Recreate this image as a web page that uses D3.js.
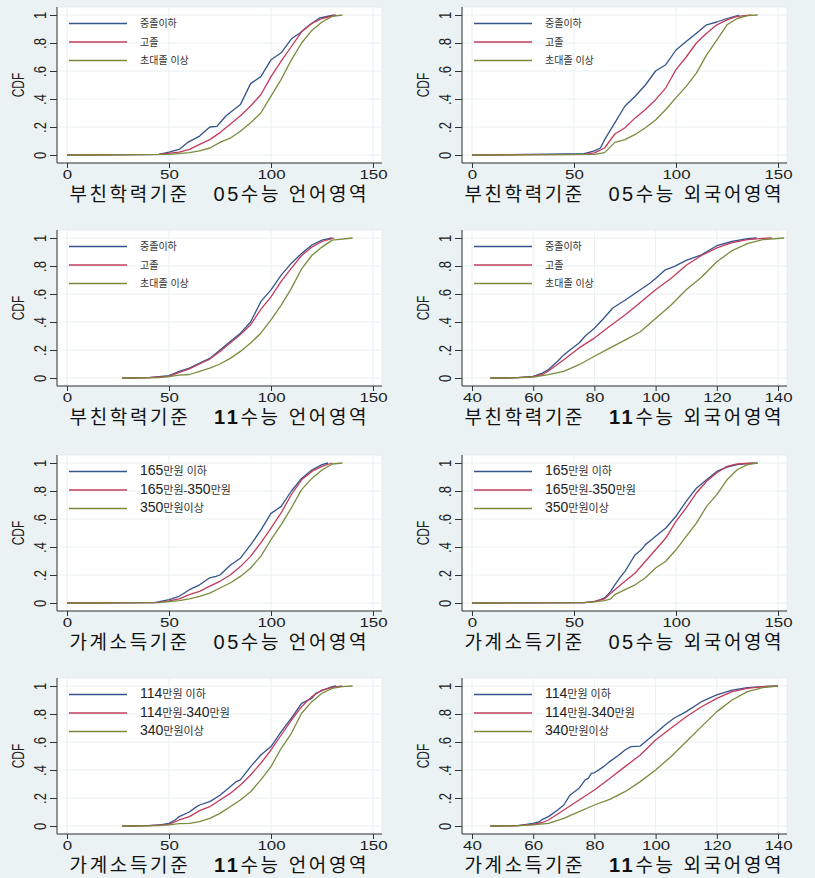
<!DOCTYPE html>
<html><head><meta charset="utf-8">
<script src="https://cdn.jsdelivr.net/npm/d3@7"></script>
<style>
html,body{margin:0;padding:0;background:#ebf2f4;}
svg{display:block;}
</style></head>
<body>
<svg id="chart" width="815" height="878"></svg>
<script>
// ---------- DATA (x score, cumulative share) ----------
const eduLabels   = ['중졸이하','고졸','초대졸 이상'];
const inc05Labels = ['165만원 이하','165만원-350만원','350만원이상'];
const inc11Labels = ['114만원 이하','114만원-340만원','340만원이상'];

const titles = [
  '부친학력기준   05수능 언어영역', '부친학력기준   05수능 외국어영역',
  '부친학력기준   11수능 언어영역', '부친학력기준   11수능 외국어영역',
  '가계소득기준   05수능 언어영역', '가계소득기준   05수능 외국어영역',
  '가계소득기준   11수능 언어영역', '가계소득기준   11수능 외국어영역'
];
const ticksWide   = [0,50,100,150];
const ticksNarrow = [40,60,80,100,120,140];
const yTicks      = [0,0.2,0.4,0.6,0.8,1];
const yTickLabels = ['0','.2','.4','.6','.8','1'];

const a05k_lo  = [[0,0],[45,0.005],[50,0.02],[55,0.04],[59,0.088],[65,0.135],[70,0.2],[73.5,0.205],[78,0.28],[85,0.36],[90,0.51],[95,0.56],[100,0.68],[105,0.73],[110,0.83],[114,0.87],[119,0.93],[124,0.98],[131,1]];
const a05k_mid = [[0,0],[45,0.005],[55,0.02],[60,0.04],[65,0.076],[70,0.11],[75,0.16],[80,0.22],[85,0.28],[90,0.35],[95,0.43],[100,0.56],[105,0.67],[110,0.775],[115,0.88],[120,0.94],[125,0.975],[132,1]];
const a05k_hi  = [[0,0],[40,0.002],[50,0.005],[60,0.017],[65,0.03],[70,0.05],[75,0.09],[80,0.12],[85,0.17],[90,0.23],[95,0.30],[100,0.42],[105,0.54],[110,0.68],[115,0.80],[120,0.89],[125,0.95],[130,0.99],[135,1]];

const a05e_lo  = [[0,0],[55,0.01],[60,0.03],[63,0.05],[65,0.11],[70,0.23],[75,0.35],[80,0.42],[85,0.50],[90,0.60],[95,0.645],[100,0.75],[105,0.81],[110,0.87],[115,0.93],[120,0.95],[125,0.975],[131,1]];
const a05e_mid = [[0,0],[55,0.005],[60,0.015],[65,0.05],[70,0.15],[75,0.195],[80,0.265],[85,0.325],[90,0.395],[95,0.48],[100,0.61],[105,0.70],[110,0.80],[115,0.87],[120,0.93],[125,0.965],[130,0.99],[137,1]];
const a05e_hi  = [[0,0],[60,0.005],[65,0.017],[70,0.09],[75,0.11],[80,0.147],[85,0.195],[90,0.25],[95,0.325],[100,0.41],[105,0.49],[110,0.585],[115,0.715],[120,0.82],[125,0.93],[130,0.975],[135,0.995],[140,1]];

const a11k_lo  = [[27,0],[40,0.002],[50,0.017],[55,0.047],[60,0.07],[65,0.107],[70,0.14],[75,0.2],[80,0.26],[85,0.32],[90,0.40],[95,0.545],[100,0.63],[105,0.735],[110,0.82],[115,0.89],[120,0.95],[125,0.985],[130,1]];
const a11k_mid = [[27,0],[40,0.002],[50,0.012],[55,0.04],[60,0.065],[65,0.10],[70,0.135],[75,0.19],[80,0.25],[85,0.31],[90,0.38],[95,0.49],[100,0.58],[105,0.69],[110,0.785],[115,0.875],[120,0.935],[125,0.975],[131,1]];
const a11k_hi  = [[27,0],[45,0.003],[50,0.01],[55,0.02],[60,0.025],[65,0.047],[70,0.07],[75,0.10],[80,0.14],[85,0.19],[90,0.25],[95,0.32],[100,0.415],[105,0.52],[110,0.64],[115,0.78],[120,0.875],[125,0.935],[130,0.985],[140,1]];

const a11e_lo  = [[46,0],[55,0.002],[60,0.012],[63,0.035],[65,0.06],[68,0.12],[70,0.165],[72,0.2],[75,0.25],[77,0.30],[80,0.355],[83,0.425],[86,0.50],[90,0.555],[95,0.63],[98,0.675],[100,0.71],[103,0.77],[106,0.795],[110,0.84],[115,0.88],[120,0.945],[125,0.975],[130,0.995],[133,1]];
const a11e_mid = [[46,0],[55,0.002],[60,0.01],[63,0.025],[65,0.05],[70,0.13],[75,0.215],[80,0.285],[85,0.37],[90,0.45],[95,0.54],[100,0.63],[105,0.71],[110,0.805],[115,0.875],[120,0.93],[125,0.967],[130,0.988],[135,0.998],[138,1]];
const a11e_hi  = [[46,0],[55,0.002],[60,0.007],[65,0.024],[70,0.047],[75,0.095],[80,0.155],[85,0.213],[90,0.27],[95,0.33],[100,0.425],[105,0.52],[110,0.63],[115,0.72],[120,0.83],[125,0.91],[130,0.96],[135,0.988],[142,1]];

const i05k_lo  = [[0,0],[43,0.003],[50,0.024],[55,0.048],[60,0.095],[65,0.13],[70,0.18],[73,0.19],[75,0.2],[80,0.27],[85,0.32],[90,0.415],[95,0.52],[100,0.64],[105,0.69],[110,0.80],[115,0.89],[120,0.95],[125,0.988],[128,1]];
const i05k_mid = [[0,0],[45,0.005],[50,0.015],[55,0.03],[60,0.06],[65,0.083],[70,0.12],[75,0.155],[80,0.2],[85,0.26],[90,0.333],[95,0.43],[100,0.535],[105,0.645],[110,0.775],[115,0.88],[120,0.94],[125,0.976],[130,1]];
const i05k_hi  = [[0,0],[45,0.003],[55,0.017],[60,0.03],[65,0.048],[70,0.07],[75,0.107],[80,0.143],[85,0.19],[90,0.25],[95,0.333],[100,0.452],[105,0.56],[110,0.68],[115,0.81],[120,0.89],[125,0.95],[130,0.993],[135,1]];

const i05e_lo  = [[0,0],[55,0.003],[60,0.01],[63,0.024],[65,0.036],[68,0.083],[70,0.13],[73,0.19],[75,0.226],[78,0.298],[80,0.345],[83,0.38],[85,0.417],[88,0.452],[90,0.476],[95,0.536],[100,0.62],[105,0.726],[110,0.82],[115,0.88],[120,0.94],[125,0.97],[130,0.988],[135,0.995],[140,1]];
const i05e_mid = [[0,0],[55,0.003],[60,0.012],[65,0.03],[70,0.095],[75,0.155],[80,0.214],[85,0.298],[90,0.38],[95,0.464],[100,0.583],[105,0.68],[110,0.786],[115,0.87],[120,0.93],[125,0.976],[130,0.993],[138,1]];
const i05e_hi  = [[0,0],[55,0.002],[60,0.008],[65,0.017],[68,0.03],[70,0.06],[75,0.095],[80,0.13],[85,0.18],[90,0.25],[95,0.298],[100,0.38],[105,0.476],[110,0.57],[115,0.69],[120,0.774],[125,0.88],[130,0.952],[135,0.988],[140,1]];

const i11k_lo  = [[27,0],[40,0.002],[45,0.007],[50,0.019],[53,0.043],[55,0.067],[60,0.10],[63,0.133],[65,0.15],[70,0.174],[75,0.22],[80,0.28],[83,0.317],[85,0.33],[90,0.424],[95,0.507],[100,0.567],[105,0.674],[108,0.733],[110,0.77],[115,0.876],[120,0.912],[122,0.948],[125,0.967],[130,0.995],[132,1]];
const i11k_mid = [[27,0],[40,0.002],[45,0.006],[50,0.012],[55,0.043],[60,0.067],[65,0.11],[70,0.138],[75,0.186],[80,0.233],[85,0.293],[90,0.364],[95,0.448],[100,0.543],[105,0.65],[110,0.757],[115,0.852],[120,0.924],[125,0.971],[130,0.99],[135,1]];
const i11k_hi  = [[27,0],[45,0.003],[50,0.008],[55,0.017],[60,0.019],[65,0.031],[70,0.055],[75,0.09],[80,0.138],[85,0.186],[90,0.245],[95,0.329],[100,0.424],[105,0.555],[110,0.662],[115,0.805],[120,0.888],[125,0.948],[130,0.983],[135,0.995],[140,1]];

const i11e_lo  = [[46,0],[55,0.003],[60,0.019],[62,0.031],[63,0.048],[65,0.067],[68,0.114],[70,0.15],[72,0.22],[75,0.27],[77,0.33],[78,0.34],[79,0.376],[80,0.38],[83,0.424],[85,0.46],[88,0.507],[90,0.543],[92,0.567],[95,0.571],[98,0.626],[100,0.662],[103,0.72],[106,0.77],[110,0.817],[115,0.888],[120,0.936],[125,0.971],[130,0.988],[135,0.995],[140,1]];
const i11e_mid = [[46,0],[55,0.003],[60,0.012],[63,0.025],[65,0.043],[70,0.114],[75,0.186],[80,0.257],[85,0.34],[90,0.424],[95,0.507],[100,0.614],[105,0.698],[110,0.78],[115,0.852],[120,0.912],[125,0.96],[130,0.983],[135,0.995],[140,1]];
const i11e_hi  = [[46,0],[55,0.002],[60,0.008],[65,0.019],[70,0.055],[75,0.102],[80,0.15],[85,0.19],[90,0.245],[95,0.317],[100,0.40],[105,0.495],[110,0.602],[115,0.71],[120,0.817],[125,0.9],[130,0.96],[135,0.988],[140,1]];

// ---------- panel table built from the arrays ----------
const panels = [
  {series:[a05k_lo,a05k_mid,a05k_hi], labels:eduLabels,   ticks:ticksWide},
  {series:[a05e_lo,a05e_mid,a05e_hi], labels:eduLabels,   ticks:ticksWide},
  {series:[a11k_lo,a11k_mid,a11k_hi], labels:eduLabels,   ticks:ticksWide},
  {series:[a11e_lo,a11e_mid,a11e_hi], labels:eduLabels,   ticks:ticksNarrow},
  {series:[i05k_lo,i05k_mid,i05k_hi], labels:inc05Labels, ticks:ticksWide},
  {series:[i05e_lo,i05e_mid,i05e_hi], labels:inc05Labels, ticks:ticksWide},
  {series:[i11k_lo,i11k_mid,i11k_hi], labels:inc11Labels, ticks:ticksWide},
  {series:[i11e_lo,i11e_mid,i11e_hi], labels:inc11Labels, ticks:ticksNarrow}
].map((p,i)=>Object.assign(p,{title:titles[i], income: i >= 4}));

const colors = ['#34548c','#c23c5c','#7b8b3d'];
const svg = d3.select('#chart');
const latin = '"Liberation Sans", Arial, sans-serif';
const mixed = '"Liberation Sans", "Noto Sans CJK KR", sans-serif';

const colX0 = [67, 472];     // pixel of first x tick
const rowY1 = [15, 238, 463, 686]; // pixel of y = 1
const spanX = 306, spanY = 140;

panels.forEach((p, i) => {
  const c = i % 2, r = Math.floor(i / 2);
  const x0 = colX0[c], y1 = rowY1[r];
  const dom = d3.extent(p.ticks);
  const x = d3.scaleLinear().domain(dom).range([x0, x0 + spanX]);
  const y = d3.scaleLinear().domain([0, 1]).range([y1 + spanY, y1]);
  const left = x0 - 10, right = x0 + spanX + 9, top = y1 - 8, bottom = y1 + spanY + 8;

  const g = svg.append('g');
  g.append('rect').attr('x', left).attr('y', top).attr('width', right - left).attr('height', bottom - top)
    .attr('fill', '#ffffff').attr('stroke', '#e4ecee').attr('stroke-width', 1);

  // gridlines
  g.append('g').selectAll('line').data(yTicks).join('line')
    .attr('x1', left).attr('x2', right).attr('y1', d => y(d)).attr('y2', d => y(d))
    .attr('stroke', '#eaf0f2').attr('stroke-width', 1);
  g.append('g').selectAll('line').data(p.ticks).join('line')
    .attr('x1', d => x(d)).attr('x2', d => x(d)).attr('y1', top).attr('y2', bottom)
    .attr('stroke', '#eaf0f2').attr('stroke-width', 1);

  // curves
  const line = d3.line().x(d => x(d[0])).y(d => y(d[1]));
  p.series.forEach((s, k) => {
    g.append('path').datum(s).attr('d', line).attr('fill', 'none')
      .attr('stroke', colors[k]).attr('stroke-width', 1.3).attr('stroke-linejoin', 'round');
  });

  // axes
  const xa = g.append('g').attr('transform', `translate(0,${bottom})`)
    .call(d3.axisBottom(x).tickValues(p.ticks).tickSize(5).tickSizeOuter(0).tickFormat(d3.format('d')));
  xa.select('.domain').remove();
  xa.selectAll('.tick line').attr('stroke', '#333');
  xa.selectAll('.tick text').attr('dy', null).attr('y', 16)
    .attr('transform', 'scale(1.3,1)')
    .attr('font-family', latin).attr('font-size', 13).attr('fill', '#222');

  const ya = g.append('g').attr('transform', `translate(${left},0)`)
    .call(d3.axisLeft(y).tickValues(yTicks).tickSize(7).tickSizeOuter(0).tickFormat((d, j) => yTickLabels[j]));
  ya.select('.domain').remove();
  ya.selectAll('.tick line').attr('stroke', '#333');
  ya.selectAll('.tick text').attr('x', null).attr('dy', '0.35em')
    .attr('text-anchor', 'middle')
    .attr('transform', 'translate(-17,0) scale(1.3,1) rotate(-90)')
    .attr('font-family', latin).attr('font-size', 13).attr('fill', '#222');

  g.append('line').attr('x1', left).attr('x2', left).attr('y1', top).attr('y2', bottom).attr('stroke', '#333');
  g.append('line').attr('x1', left).attr('x2', right).attr('y1', bottom).attr('y2', bottom).attr('stroke', '#333');

  // y title
  g.append('text').attr('transform', `translate(${left - 38},${y(0.5)}) scale(1.3,1) rotate(-90)`)
    .attr('text-anchor', 'middle').attr('dy', '0.35em')
    .attr('font-family', latin).attr('font-size', 12).attr('fill', '#222')
    .text('CDF');

  // legend
  const lg = g.append('g');
  p.labels.forEach((lab, k) => {
    const ly = y1 + 8.5 + k * 18.5;
    lg.append('line').attr('x1', x0 + 2).attr('x2', x0 + 60).attr('y1', ly).attr('y2', ly)
      .attr('stroke', colors[k]).attr('stroke-width', 1.3);
    const t = lg.append('text').attr('x', x0 + 73).attr('y', ly).attr('dy', '0.36em')
      .attr('font-family', mixed).attr('font-size', p.income ? 11 : 10).attr('fill', '#333');
    lab.split(/(\d+)/).filter(s => s.length).forEach(part => {
      const isNum = /^\d+$/.test(part);
      t.append('tspan').text(part)
        .attr('font-size', isNum ? 14 : null)
        .attr('fill', isNum ? '#222' : null);
    });
  });

  // panel title
  const nHangul = (p.title.match(/[\uac00-\ud7a3]/g) || []).length;
  const tt = g.append('text').attr('x', x0 + 151).attr('y', y1 + 186)
    .attr('text-anchor', 'middle').attr('fill', '#111')
    .attr('font-family', mixed).attr('font-size', 19)
    .attr('textLength', 20 * nHangul + 57).attr('lengthAdjust', 'spacing')
    .style('white-space', 'pre');
  p.title.split(/(\d+)/).filter(s => s.length).forEach(part => {
    const isNum = /^\d+$/.test(part);
    tt.append('tspan').text(part)
      .attr('font-size', isNum ? 20 : null)
      .attr('font-weight', isNum && part === '11' ? 'bold' : null);
  });
});
</script>
</body></html>
